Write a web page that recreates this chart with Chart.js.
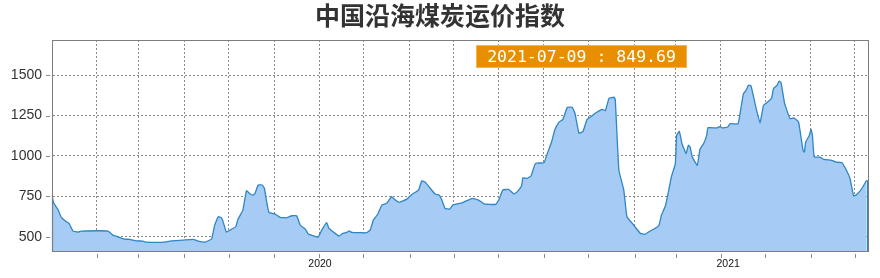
<!DOCTYPE html>
<html>
<head>
<meta charset="utf-8">
<script src="https://cdn.jsdelivr.net/npm/chart.js@4"></script>
<style>
  html, body { margin: 0; padding: 0; background: #fff; }
  #wrap { width: 880px; height: 278px; }
</style>
</head>
<body>
<div id="wrap"><canvas id="myChart" width="880" height="278"></canvas></div>
<script>
const title = "中国沿海煤炭运价指数";
const lastDate = "2021-07-09";

// x positions in tick units (one grid step = 1)
const xPos = [0, 0.04, 0.13, 0.21, 0.32, 0.38, 0.47, 0.58, 0.65, 1.25, 1.36, 1.47, 1.61, 1.73, 1.88, 2.03, 2.10, 2.52, 2.66, 2.92,
    3.15, 3.26, 3.41, 3.56, 3.63, 3.71, 3.78, 3.83, 3.89, 4.00, 4.10, 4.15, 4.26, 4.34, 4.41, 4.49, 4.53, 4.60, 4.69, 4.74,
    4.79, 4.84, 4.98, 5.09, 5.24, 5.35, 5.46, 5.54, 5.65, 5.72, 5.83, 5.94, 6.02, 6.13, 6.18, 6.32, 6.41, 6.48, 6.58, 6.63,
    6.69, 6.91, 7.02, 7.10, 7.17, 7.27, 7.36, 7.47, 7.58, 7.66, 7.75, 7.92, 8.03, 8.18, 8.25, 8.33, 8.44, 8.55, 8.64, 8.70,
    8.77, 8.88, 8.94, 9.15, 9.38, 9.52, 9.64, 9.90, 9.97, 10.06, 10.19, 10.31, 10.38, 10.48, 10.51, 10.60, 10.69, 10.79, 10.98, 11.05,
    11.15, 11.22, 11.31, 11.40, 11.50, 11.61, 11.67, 11.76, 11.85, 11.94, 12.05, 12.14, 12.28, 12.35, 12.43, 12.54, 12.57, 12.65, 12.76, 12.83,
    12.95, 13.02, 13.13, 13.23, 13.32, 13.54, 13.60, 13.69, 13.77, 13.82, 13.91, 13.94, 14.00, 14.06, 14.15, 14.20, 14.24, 14.29, 14.40, 14.46,
    14.54, 14.61, 14.64, 14.84, 14.91, 14.96, 15.08, 15.13, 15.31, 15.36, 15.43, 15.49, 15.54, 15.60, 15.69, 15.80, 15.88, 15.99, 16.06, 16.10,
    16.18, 16.23, 16.27, 16.35, 16.47, 16.55, 16.66, 16.76, 16.79, 16.82, 16.90, 16.94, 16.97, 17.01, 17.14, 17.22, 17.40, 17.49, 17.63, 17.74,
    17.81, 17.89, 17.96, 18.07, 18.18];
const values = [752, 707, 670, 620, 593, 583, 535, 529, 535, 535, 510, 500, 486, 484, 475, 473, 467, 467, 475, 479,
    484, 473, 467, 486, 572, 624, 618, 583, 529, 546, 562, 608, 665, 785, 768, 758, 768, 820, 820, 800,
    717, 651, 640, 620, 617, 630, 630, 572, 548, 517, 506, 498, 541, 587, 552, 521, 504, 519, 527, 537,
    527, 525, 525, 541, 603, 639, 696, 707, 748, 727, 713, 733, 762, 789, 845, 837, 800, 764, 758, 727,
    676, 672, 696, 710, 738, 727, 704, 700, 727, 789, 793, 764, 778, 816, 865, 861, 876, 954, 958, 1012,
    1088, 1160, 1208, 1226, 1301, 1301, 1264, 1140, 1152, 1226, 1247, 1267, 1288, 1280, 1356, 1363, 1350, 913, 789, 624,
    583, 558, 521, 515, 531, 568, 634, 692, 797, 869, 952, 1127, 1152, 1075, 1014, 1066, 1055, 993, 942, 1041,
    1075, 1127, 1175, 1173, 1183, 1173, 1179, 1199, 1199, 1272, 1385, 1406, 1437, 1433, 1323, 1205, 1313, 1338, 1358, 1416,
    1437, 1463, 1453, 1323, 1230, 1235, 1210, 1035, 1024, 1086, 1127, 1165, 1127, 993, 993, 979, 973, 962, 958, 905,
    859, 752, 762, 797, 849.69];

const yTicks = [500, 750, 1000, 1250, 1500];
const gridPos = [1.0, 1.93, 2.95, 3.94, 4.96, 5.96, 6.95, 7.98, 8.96, 9.96, 10.97, 11.97, 13.0, 13.92, 14.92, 15.92, 16.93, 17.91];
const yearPos = [5.98, 15.09];
const yearLabels = ["2020", "2021"];

const lineColor = "#2f86c4";
const fillColor = "#a6cbf4";
const gridColor = "#8a8a8a";

const points = xPos.map((x, i) => ({ x: x, y: values[i] }));

const extras = {
    id: 'extras',
    afterDatasetsDraw(chart) {
        const ctx = chart.ctx;
        const a = chart.chartArea;
        const pts = chart.getDatasetMeta(0).data;
        ctx.save();
        // area edges drop to the base
        ctx.strokeStyle = lineColor;
        ctx.lineWidth = 1.2;
        for (const p of [pts[0], pts[pts.length - 1]]) {
            ctx.beginPath();
            ctx.moveTo(Math.round(p.x) + 0.5, p.y);
            ctx.lineTo(Math.round(p.x) + 0.5, a.bottom);
            ctx.stroke();
        }
        // plot frame
        ctx.strokeStyle = "#7d7d7d";
        ctx.lineWidth = 1;
        ctx.strokeRect(Math.round(a.left) + 0.5, Math.round(a.top) + 0.5, Math.round(a.right - a.left), Math.round(a.bottom - a.top));
        ctx.restore();
    },
    afterDraw(chart) {
        const ctx = chart.ctx;
        const a = chart.chartArea;
        const xs = chart.scales.x, ys = chart.scales.y;
        ctx.save();
        // detached tick marks
        ctx.strokeStyle = "#8a8a8a";
        ctx.lineWidth = 1;
        for (const v of yTicks) {
            const py = Math.round(ys.getPixelForValue(v)) + 0.5;
            ctx.beginPath();
            ctx.moveTo(a.left - 6, py);
            ctx.lineTo(a.left - 2, py);
            ctx.stroke();
        }
        for (const v of gridPos) {
            const px = Math.round(xs.getPixelForValue(v)) + 0.5;
            ctx.beginPath();
            ctx.moveTo(px, a.bottom + 3);
            ctx.lineTo(px, a.bottom + 7);
            ctx.stroke();
        }
        // title
        ctx.fillStyle = "#333";
        ctx.font = 'bold 25px "Noto Sans CJK SC"';
        ctx.textAlign = "center";
        ctx.textBaseline = "middle";
        ctx.fillText(title, chart.width / 2, 15);
        // last value label
        const bx = a.left + 424, by = a.top + 5, bw = 211, bh = 23;
        ctx.fillStyle = "#e88f00";
        ctx.fillRect(bx, by, bw, bh);
        ctx.strokeStyle = "#f4b356";
        ctx.strokeRect(bx + 0.5, by + 0.5, bw - 1, bh - 1);
        ctx.fillStyle = "#fff";
        ctx.font = '16.5px "DejaVu Sans Mono"';
        ctx.fillText(lastDate + " : " + values[values.length - 1].toFixed(2), bx + bw / 2, by + bh / 2 + 1);
        ctx.restore();
    }
};

const ctx = document.getElementById("myChart").getContext("2d");
const myChart = new Chart(ctx, {
    type: 'line',
    data: {
        datasets: [{
            data: points,
            borderColor: lineColor,
            backgroundColor: fillColor,
            borderWidth: 1.3,
            fill: 'start',
            pointRadius: 0,
            tension: 0.1
        }]
    },
    options: {
        responsive: false,
        animation: false,
        devicePixelRatio: 1,
        layout: { padding: { top: 40, right: 12, left: 0, bottom: 0 } },
        plugins: { legend: { display: false }, tooltip: { enabled: false } },
        scales: {
            x: {
                type: 'linear',
                min: 0,
                max: 18.21,
                afterBuildTicks: axis => {
                    axis.ticks = gridPos.concat(yearPos).sort((p, q) => p - q).map(v => ({ value: v }));
                },
                afterFit: s => { s.height = 27; },
                ticks: {
                    autoSkip: false,
                    maxRotation: 0,
                    padding: 7,
                    color: "#111",
                    font: { family: '"Liberation Sans"', size: 10.5 },
                    callback: v => {
                        const k = yearPos.indexOf(v);
                        return k >= 0 ? yearLabels[k] : '';
                    }
                },
                grid: {
                    drawTicks: false,
                    color: c => (c.tick && gridPos.includes(c.tick.value)) ? gridColor : 'rgba(0,0,0,0)'
                },
                border: { color: "#7d7d7d", dash: [2, 2] }
            },
            y: {
                min: 412,
                max: 1717,
                afterBuildTicks: axis => {
                    axis.ticks = yTicks.map(v => ({ value: v }));
                },
                afterFit: s => { s.width = 52; },
                ticks: {
                    padding: 10,
                    color: "#333",
                    font: { family: '"Liberation Sans"', size: 14 },
                    callback: v => String(v)
                },
                grid: { drawTicks: false, color: gridColor },
                border: { color: "#7d7d7d", dash: [2, 2] }
            }
        }
    },
    plugins: [extras]
});
</script>
</body>
</html>
